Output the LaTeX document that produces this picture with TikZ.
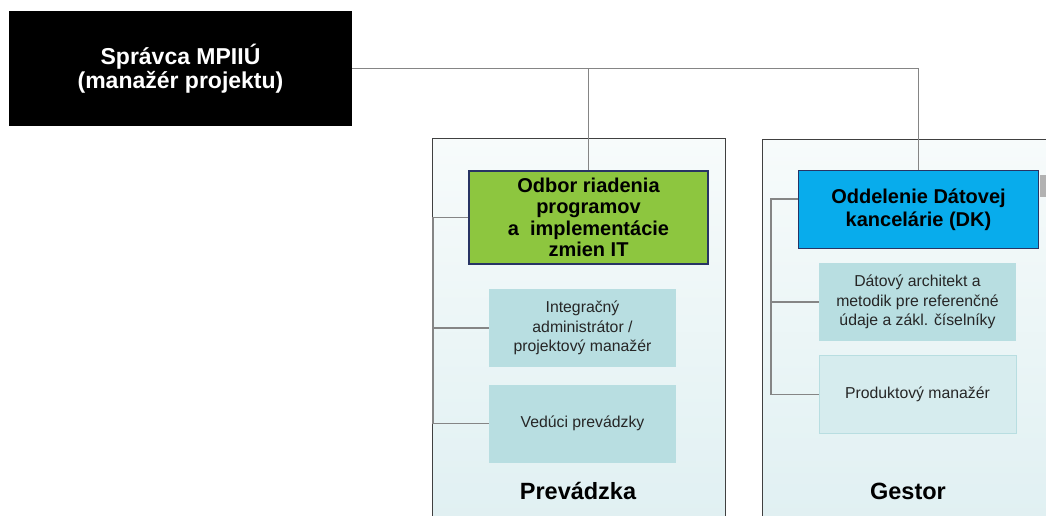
\documentclass[tikz,border=0pt]{standalone}
\usepackage{fontspec}
\setmainfont{Liberation Sans}
\usetikzlibrary{positioning,calc}

\definecolor{officegreen}{RGB}{141,198,63}
\definecolor{officeblue}{RGB}{8,172,236}
\definecolor{navyline}{RGB}{40,52,100}
\definecolor{rolefill}{RGB}{184,222,225}
\definecolor{rolelight}{RGB}{214,236,238}
\definecolor{paneltop}{RGB}{247,251,251}
\definecolor{panelbottom}{RGB}{224,240,242}

\tikzset{
  manager/.style={fill=black, text=white, font=\bfseries\fontsize{23}{24}\selectfont, align=center, minimum width=343pt, minimum height=115pt, inner sep=0pt},
  office/.style={draw=navyline, line width=1.2pt, font=\bfseries\fontsize{20}{21.5}\selectfont, align=center, minimum width=239pt, inner sep=0pt},
  role/.style={fill=rolefill, font=\fontsize{15.8}{19.5}\selectfont, text=black!85, align=center, minimum width=187pt, minimum height=78pt, inner sep=0pt},
  panel/.style={draw=black!75, line width=0.8pt, top color=paneltop, bottom color=panelbottom},
  caption/.style={font=\bfseries\fontsize{23.5}{24}\selectfont},
  link/.style={draw=black!48, line width=1.8pt}
}

\begin{document}
\begin{tikzpicture}[x=1pt, y=-1pt]

    \useasboundingbox (0,0) rectangle (1046,515);

    % Panels
    \path[panel] (432,138) rectangle (725,525);
    \path[panel] (762,139) rectangle (1056,525);
    \fill[black!30] (1040,175) rectangle (1046,197);

    % Boxes
    \node[manager] (boss) at (180.5,68.5) {Správca MPIIÚ\\(manažér projektu)};
    \node[office, fill=officegreen, minimum height=93pt] (odbor) at (588.5,217.5) {Odbor riadenia\\programov\\a\ \ implementácie\\zmien IT};
    \node[office, fill=officeblue, minimum height=78pt, minimum width=240pt, font=\bfseries\fontsize{20}{22.5}\selectfont] (dk) at (918.5,209.5) {Oddelenie Dátovej\\kancelárie (DK)};

    \node[role] (integ) at (582.5,328) {Integračný\\administrátor /\\projektový manažér};
    \node[role] (veduci) at (582.5,423.5) {Vedúci prevádzky};
    \node[role, minimum width=197pt] (datovy) at (917.5,302) {Dátový architekt a\\metodik pre referenčné\\údaje a zákl. číselníky};
    \node[role, minimum width=197pt, fill=rolelight, draw=rolefill, line width=1pt] (produkt) at (917.5,394.5) {Produktový manažér};

    % Panel captions
    \node[caption] (prevadzka) at (578,491) {Prevádzka};
    \node[caption] (gestor) at (908,491) {Gestor};

    % Connectors
    \coordinate (busL) at (433,0);
    \coordinate (busR) at (771,199);
    \draw[link] (boss.east) -| (dk.north);
    \draw[link] (boss.east -| odbor.north) -- (odbor.north);
    \draw[link] (odbor.west) -- (odbor.west -| busL) |- (veduci.west);
    \draw[link] (integ.west) -- (integ.west -| busL);
    \draw[link] (busR -| dk.west) -- (busR) |- (produkt.west);
    \draw[link] (datovy.west) -- (datovy.west -| busR);

\end{tikzpicture}
\end{document}
